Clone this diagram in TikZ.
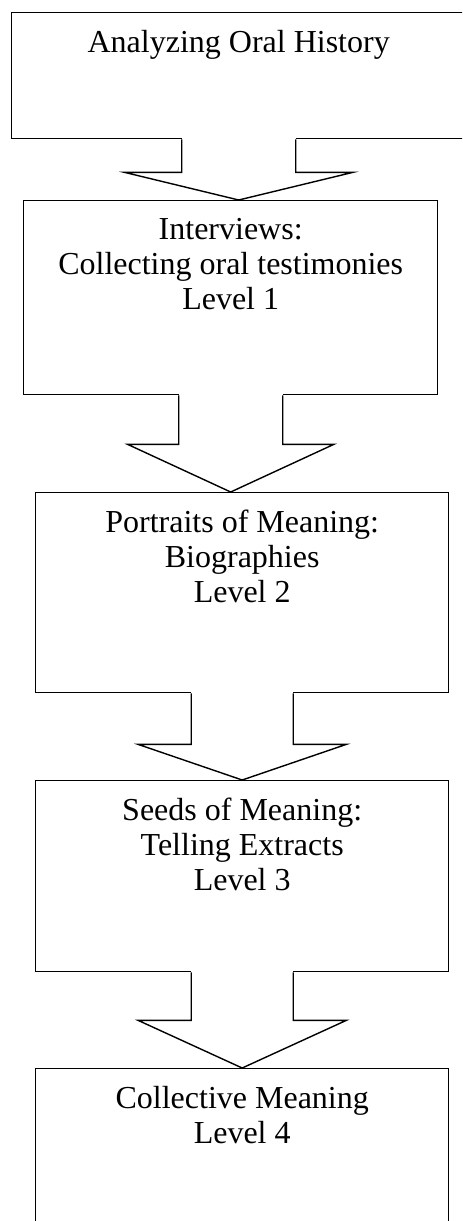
\documentclass[tikz,border=0pt]{standalone}
\usepackage{fontspec}
\setmainfont{Liberation Serif}
\usetikzlibrary{calc,positioning}

\tikzset{
	box/.style={draw, line width=0.7pt, inner sep=0pt, anchor=north west},
	boxtext/.style={align=center, inner sep=0pt, font=\fontsize{16}{17.5}\selectfont},
	blockarrow/.style={draw, line width=0.7pt, line join=miter}
}

\begin{document}
\begin{tikzpicture}[x=0.5pt,y=-0.5pt]
		\clip (0,0) rectangle (462,1221);
		%
		\node[box, minimum width=227pt, minimum height=63pt] (H) at (11,12) {};
		\node[box, minimum width=207pt, minimum height=97pt] (L1) at (23,200) {};
		\node[box, minimum width=206.5pt, minimum height=100pt] (L2) at (35,492) {};
		\node[box, minimum width=206.5pt, minimum height=95.5pt] (L3) at (35,780) {};
		\node[box, minimum width=206.5pt, minimum height=90pt] (L4) at (35,1068) {};
		%
		\node[boxtext, below=9pt of H.north] (tH) {Analyzing Oral History};
		\node[boxtext, below=9.2pt of L1.north] (t1) {Interviews:\\Collecting oral testimonies\\Level 1};
		\node[boxtext, below=9pt of L2.north] (t2) {Portraits of Meaning:\\Biographies\\Level 2};
		\node[boxtext, below=9pt of L3.north] (t3) {Seeds of Meaning:\\Telling Extracts\\Level 3};
		\node[boxtext, below=9pt of L4.north] (t4) {Collective Meaning\\Level 4};
		%
		% block arrows between the levels
		\fill[white] ($(H.south)+(-57,-2)$) rectangle ($(H.south)+(57,2)$);
		\draw[blockarrow] ($(H.south)+(-57,0)$) -- ++(0,33) -- ++(-57,0) -- (H.south |- L1.north)
			-- ($(H.south)+(114,33)$) -- ++(-57,0) -- ++(0,-33);
		\fill[white] ($(L1.south)+(-52,-2)$) rectangle ($(L1.south)+(52,2)$);
		\draw[blockarrow] ($(L1.south)+(-52,0)$) -- ++(0,49) -- ++(-51,0) -- (L1.south |- L2.north)
			-- ($(L1.south)+(103,49)$) -- ++(-51,0) -- ++(0,-49);
		\fill[white] ($(L2.south)+(-51,-2)$) rectangle ($(L2.south)+(51,2)$);
		\draw[blockarrow] ($(L2.south)+(-51,0)$) -- ++(0,51) -- ++(-53,0) -- (L2.south |- L3.north)
			-- ($(L2.south)+(104,51)$) -- ++(-53,0) -- ++(0,-51);
		\fill[white] ($(L3.south)+(-51,-2)$) rectangle ($(L3.south)+(51,2)$);
		\draw[blockarrow] ($(L3.south)+(-51,0)$) -- ++(0,48) -- ++(-53,0) -- (L3.south |- L4.north)
			-- ($(L3.south)+(104,48)$) -- ++(-53,0) -- ++(0,-48);
\end{tikzpicture}
\end{document}
